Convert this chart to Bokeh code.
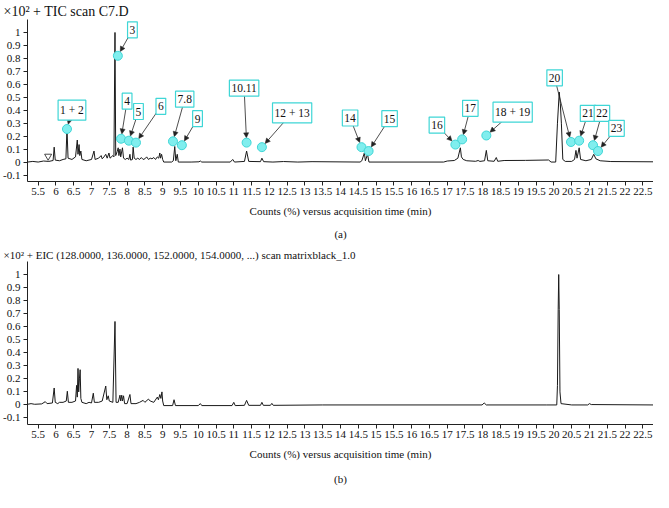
import math
from bokeh.plotting import figure
from bokeh.models import (Range1d, FixedTicker, NumeralTickFormatter, Arrow,
                          NormalHead, ColumnDataSource, Title)
from bokeh.layouts import column
from bokeh.embed import file_html
from bokeh.resources import INLINE
from bokeh.core.properties import value

# ---------------- data ----------------
x_ticks = [5.5, 6, 6.5, 7, 7.5, 8, 8.5, 9, 9.5, 10, 10.5, 11, 11.5, 12, 12.5, 13,
           13.5, 14, 14.5, 15, 15.5, 16, 16.5, 17, 17.5, 18, 18.5, 19, 19.5, 20,
           20.5, 21, 21.5, 22, 22.5]
y_ticks = [-0.1, 0, 0.1, 0.2, 0.3, 0.4, 0.5, 0.6, 0.7, 0.8, 0.9, 1]

# (a) TIC trace vertices: retention time (min), counts (x10^2 %)
tic_time = [5.2, 5.35, 5.5, 5.65, 5.8, 5.92, 5.95, 5.98, 6.1, 6.2, 6.28, 6.31, 6.34,
            6.45, 6.55, 6.6, 6.62, 6.65, 6.67, 6.7, 6.73, 6.85, 7.0, 7.07, 7.1, 7.2,
            7.27, 7.3, 7.35, 7.4, 7.44, 7.49, 7.52, 7.6, 7.63, 7.66, 7.68, 7.72, 7.75,
            7.77, 7.8, 7.82, 7.87, 7.9, 7.95, 8.0, 8.05, 8.08, 8.1, 8.15, 8.17, 8.2,
            8.25, 8.3, 8.35, 8.4, 8.45, 8.5, 8.55, 8.6, 8.65, 8.7, 8.75, 8.8, 8.85,
            8.89, 8.92, 8.94, 8.97, 9.0, 9.03, 9.25, 9.3, 9.34, 9.37, 9.41, 9.44, 9.8,
            10.02, 10.06, 10.1, 10.9, 10.97, 11.02, 11.3, 11.36, 11.42, 11.75, 11.79,
            11.84, 12.1, 12.4, 12.8, 13.2, 14.55, 14.6, 14.67, 14.7, 14.76, 14.8, 16.9,
            17.0, 17.2, 17.3, 17.37, 17.4, 17.45, 17.55, 17.8, 17.87, 17.92, 18.05,
            18.1, 18.14, 18.32, 18.38, 18.42, 18.6, 19.2, 19.85, 19.92, 20.05, 20.1,
            20.15, 20.18, 20.21, 20.25, 20.32, 20.5, 20.58, 20.62, 20.65, 20.71, 20.75,
            20.9, 21.05, 21.12, 21.18, 21.3, 21.6, 22.8]
tic_counts = [0.0, 0.005, 0.0, 0.008, 0.005, 0.012, 0.115, 0.015, 0.01, 0.02, 0.025, 0.26,
              0.03, 0.02, 0.04, 0.17, 0.06, 0.135, 0.05, 0.085, 0.02, 0.01, 0.02, 0.085,
              0.02, 0.03, 0.05, 0.025, 0.04, 0.06, 0.03, 0.07, 0.03, 0.05, 0.04, 1.0,
              0.05, 0.08, 0.11, 0.05, 0.1, 0.04, 0.11, 0.03, 0.02, 0.03, 0.02, 0.06,
              0.015, 0.02, 0.115, 0.03, 0.02, 0.03, 0.02, 0.035, 0.02, 0.025, 0.04,
              0.02, 0.03, 0.025, 0.035, 0.02, 0.04, 0.03, 0.07, 0.03, 0.06, 0.02, 0.0,
              0.0, 0.01, 0.12, 0.01, 0.06, 0.0, 0.0, 0.002, 0.008, 0.0, 0.0, 0.02, 0.0,
              0.005, 0.085, 0.005, 0.003, 0.03, 0.003, 0.0, 0.004, 0.0, 0.003, 0.0,
              0.01, 0.07, 0.01, 0.06, 0.0, 0.0, 0.008, 0.012, 0.03, 0.11, 0.04, 0.02,
              0.01, 0.006, 0.012, 0.005, 0.01, 0.09, 0.01, 0.006, 0.035, 0.006, 0.012,
              0.013, 0.016, 0.0, 0.0, 0.3, 0.54, 0.45, 0.3, 0.02, 0.005, 0.005, 0.02,
              0.09, 0.03, 0.11, 0.02, 0.01, 0.02, 0.06, 0.025, 0.01, 0.004, 0.002]

# (b) EIC trace vertices
eic_time = [5.2, 5.3, 5.4, 5.6, 5.7, 5.75, 5.9, 5.95, 5.98, 6.05, 6.1, 6.2, 6.29, 6.32,
            6.35, 6.45, 6.55, 6.58, 6.6, 6.62, 6.64, 6.66, 6.68, 6.7, 6.73, 6.85, 6.93,
            7.0, 7.05, 7.08, 7.2, 7.3, 7.4, 7.43, 7.47, 7.5, 7.6, 7.66, 7.69, 7.75, 7.8,
            7.82, 7.85, 7.87, 7.9, 7.93, 8.0, 8.08, 8.11, 8.25, 8.35, 8.45, 8.5, 8.6,
            8.65, 8.75, 8.85, 8.88, 8.92, 8.95, 8.98, 9.0, 9.03, 9.28, 9.32, 9.36, 10.0,
            10.06, 10.1, 10.95, 11.0, 11.04, 11.3, 11.36, 11.42, 11.75, 11.79, 11.83,
            12.03, 12.07, 12.11, 13.5, 17.98, 18.04, 18.1, 19.8, 20.08, 20.1, 20.12,
            20.135, 20.15, 20.17, 20.2, 20.5, 20.95, 21.0, 21.05, 22.8]
eic_counts = [0.005, 0.01, 0.005, 0.008, 0.025, 0.01, 0.015, 0.13, 0.02, 0.01, 0.02, 0.02,
              0.03, 0.105, 0.02, 0.02, 0.03, 0.15, 0.06, 0.28, 0.1, 0.2, 0.27, 0.05,
              0.02, 0.01, 0.02, 0.015, 0.09, 0.02, 0.02, 0.03, 0.145, 0.04, 0.07, 0.03,
              0.02, 0.64, 0.02, 0.02, 0.075, 0.03, 0.075, 0.03, 0.07, 0.01, 0.01, 0.08,
              0.01, 0.01, 0.02, 0.035, 0.02, 0.045, 0.03, 0.02, 0.06, 0.04, 0.08, 0.05,
              0.1, 0.03, -0.005, -0.005, 0.04, -0.005, -0.005, 0.01, -0.005, -0.005,
              0.02, -0.005, -0.003, 0.035, -0.003, -0.003, 0.02, -0.003, -0.003, 0.012,
              -0.003, 0.0, 0.0, 0.015, 0.0, 0.0, 0.0, 0.15, 0.73, 1.0, 0.73, 0.1, 0.01,
              0.0, 0.0, 0.01, 0.003, 0.0]

# peak annotations in (a)
peak_names = ["1 + 2", "3", "4", "5", "6", "7.8", "9", "10.11", "12 + 13", "14", "15",
              "16", "17", "18 + 19", "20", "21", "22", "23"]
peak_time = [6.31, 7.74, 7.83, 8.05, 8.25, 9.29, 9.54, 11.36, 11.79, 14.59, 14.79,
             17.23, 17.42, 18.1, 20.48, 20.71, 21.1, 21.24]
peak_counts = [0.255, 0.82, 0.18, 0.165, 0.15, 0.16, 0.13, 0.15, 0.115, 0.115, 0.085,
               0.135, 0.175, 0.205, 0.155, 0.165, 0.13, 0.085]
label_time = [6.45, 8.15, 8.0, 8.32, 8.95, 9.62, 9.98, 11.29, 12.64, 14.27, 15.38,
              16.71, 17.65, 18.84, 20.02, 20.96, 21.35, 21.76]
label_counts = [0.40, 1.02, 0.47, 0.39, 0.43, 0.485, 0.335, 0.57, 0.38, 0.34, 0.335,
                0.285, 0.415, 0.385, 0.65, 0.375, 0.375, 0.26]

# manual-integration marker in (a)
mark_time = [5.78]
mark_counts = [0.045]

# ---------------- styling ----------------
FONT = "Liberation Serif"
CYAN_FILL = "#80eeee"
CYAN_LINE = "#3fd6d6"
W = 653
X0, X1 = 5.2, 22.8
Y0, Y1 = -0.15, 1.1
LB, TB = 26, 14
FRAME_H = 167


def make_panel(title, tag, height, title_size, tag_standoff):
    p = figure(width=W, height=height, output_backend="svg", toolbar_location=None,
               x_range=Range1d(X0, X1), y_range=Range1d(Y0, Y1),
               min_border_left=LB, min_border_right=0, min_border_top=TB,
               min_border_bottom=height - TB - FRAME_H)
    p.outline_line_color = None
    p.grid.visible = False
    p.background_fill_color = "white"
    p.border_fill_color = "white"
    p.title.text = title
    p.title.align = "left"
    p.title.offset = -LB + 2
    p.title.standoff = 2
    p.title.text_font = FONT
    p.title.text_font_size = title_size
    p.title.text_font_style = "normal"
    p.title.text_color = "#111111"

    for ax in (p.xaxis[0], p.yaxis[0]):
        ax.axis_line_color = "#222222"
        ax.axis_line_width = 1
        ax.major_tick_line_color = "#222222"
        ax.major_tick_out = 4
        ax.major_tick_in = 0
        ax.minor_tick_line_color = None
        ax.major_label_text_font = FONT
        ax.major_label_text_font_size = "11px"
        ax.major_label_text_color = "#111111"
        ax.formatter = NumeralTickFormatter(format="0.[0]")
    p.xaxis.ticker = FixedTicker(ticks=x_ticks)
    p.yaxis.ticker = FixedTicker(ticks=y_ticks)
    p.xaxis.major_label_standoff = 2
    p.yaxis.major_label_standoff = 3
    p.xaxis.axis_label = "Counts (%) versus acquisition time (min)"
    p.xaxis.axis_label_text_font = FONT
    p.xaxis.axis_label_text_font_size = "11px"
    p.xaxis.axis_label_text_font_style = "normal"
    p.xaxis.axis_label_text_color = "#111111"
    p.xaxis.axis_label_standoff = 7
    p.add_layout(Title(text=tag, align="center", text_font=FONT,
                       text_font_size="11px", text_font_style="normal",
                       text_color="#111111", standoff=tag_standoff), "below")
    return p


H1, H2 = 245, 247

# ---------------- panel (a) ----------------
p1 = make_panel("\u00d710\u00b2 + TIC scan C7.D", "(a)", H1, "14px", 12)
p1.line(tic_time, tic_counts, line_color="#1a1a1a", line_width=1)
p1.scatter(mark_time, mark_counts, marker="inverted_triangle", size=7,
           fill_color=None, line_color="#1a1a1a", line_width=0.8)

# arrows: from label centre towards peak marker, stopping at marker edge
sx = (W - LB) / (X1 - X0)
sy = FRAME_H / (Y1 - Y0)
xs, ys, xe, ye = [], [], [], []
for lx, ly, mx, my in zip(label_time, label_counts, peak_time, peak_counts):
    dxp = (mx - lx) * sx
    dyp = (my - ly) * sy
    L = math.hypot(dxp, dyp)
    shrink = 5.0
    xs.append(lx)
    ys.append(ly)
    xe.append(mx - dxp / L * shrink / sx)
    ye.append(my - dyp / L * shrink / sy)
arrow_src = ColumnDataSource(dict(xs=xs, ys=ys, xe=xe, ye=ye))
arr = Arrow(x_start="xs", y_start="ys", x_end="xe", y_end="ye", source=arrow_src,
            line_color="#222222", line_width=0.8,
            end=NormalHead(size=5, fill_color="#222222", line_color="#222222",
                           line_width=0.5),
            level="underlay")
p1.add_layout(arr)

p1.scatter(peak_time, peak_counts, marker="circle", size=9,
           fill_color=CYAN_FILL, line_color=CYAN_LINE, line_width=1)

lab_src = ColumnDataSource(dict(x=label_time, y=label_counts, t=peak_names))
p1.text(x="x", y="y", text="t", source=lab_src, text_font=value(FONT),
        text_font_size="11.5px", text_align="center", text_baseline="middle",
        text_color="#111111", background_fill_color="white",
        border_line_color=CYAN_LINE, border_line_width=1.2,
        padding=dict(left=2, right=2, top=4, bottom=4))

# ---------------- panel (b) ----------------
p2 = make_panel("\u00d710\u00b2 + EIC (128.0000, 136.0000, 152.0000, 154.0000, ...) "
                "scan matrixblack_1.0", "(b)", H2, "11px", 16)
p2.line(eic_time, eic_counts, line_color="#1a1a1a", line_width=1)

layout = column(p1, p2, spacing=0)
open("out.html", "w").write(file_html(layout, INLINE))
